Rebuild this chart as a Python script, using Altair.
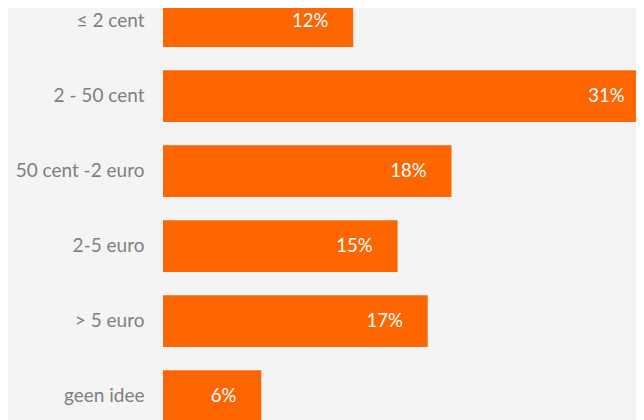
import altair as alt
import pandas as pd

categories = ["≤ 2 cent", "2 - 50 cent", "50 cent -2 euro", "2-5 euro", "> 5 euro", "geen idee"]
values = [12.0, 30.7, 18.2, 14.8, 16.7, 6.2]
labels = ["12%", "31%", "18%", "15%", "17%", "6%"]

df = pd.DataFrame({"cat": categories, "val": values, "lab": labels})

FONT = "Lato"
ORANGE = "#ff6600"
BG = "#f4f4f4"

y = alt.Y(
    "cat:N",
    sort=categories,
    title=None,
    scale=alt.Scale(range=[-24.5, 425.5], paddingInner=0.31, paddingOuter=0.155),
    axis=alt.Axis(
        domain=False,
        ticks=False,
        labelPadding=19,
        labelFont=FONT,
        labelFontSize=19,
        labelColor="#7f7f7f",
        labelLimit=300,
    ),
)
x = alt.X(
    "val:Q",
    title=None,
    scale=alt.Scale(domain=[0, 29.84], nice=False, zero=True),
    axis=None,
)

bars = alt.Chart(df).mark_bar(color=ORANGE).encode(x=x, y=y)
text = alt.Chart(df).mark_text(
    align="right", baseline="middle", dx=-25, color="white", font=FONT, fontSize=18.5
).encode(x=x, y=y, text="lab:N")

chart = (
    (bars + text)
    .properties(
        width=473,
        height=412,
        background=BG,
        autosize=alt.AutoSizeParams(type="none"),
        padding={"left": 155, "top": 0, "right": 0, "bottom": 0},
    )
    .configure_view(stroke=None)
)

chart.save("out.html", embed_options={"renderer": "svg", "actions": False})
